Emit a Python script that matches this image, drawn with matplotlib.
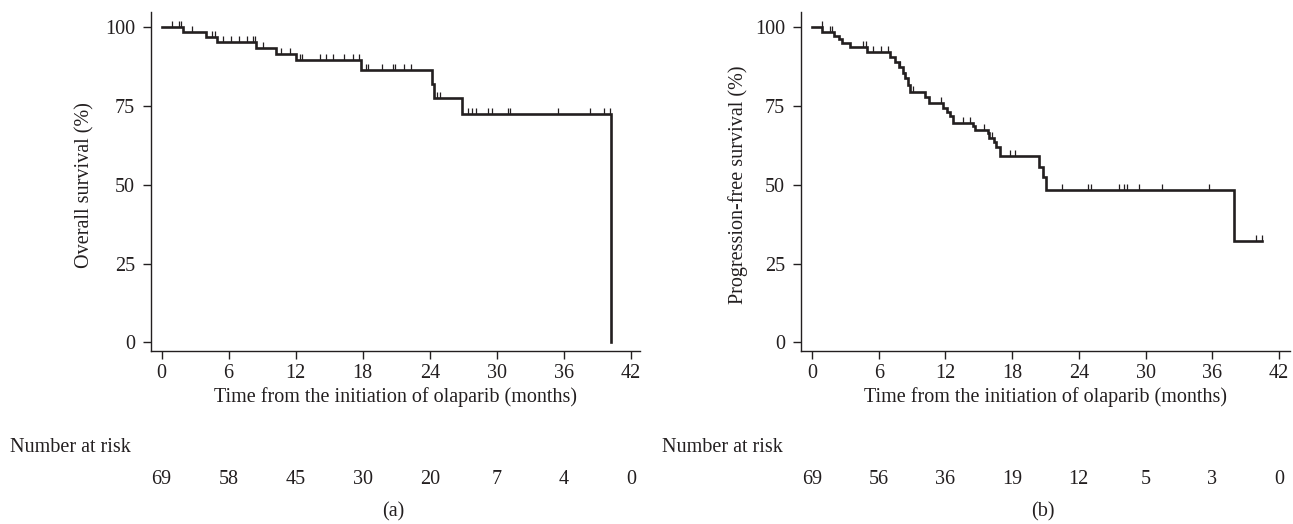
import numpy as np
import matplotlib
matplotlib.use("Agg")
import matplotlib.pyplot as plt
from matplotlib import transforms

plt.rcParams['font.family'] = ['Liberation Serif', 'DejaVu Serif']

INK = '#231f20'
FS = 14.5

# overall survival (a): step times (months) and survival (%) after each step
os_times = [0, 1.95, 3.94, 4.95, 8.45, 10.2, 12.07, 17.8, 24.2, 24.4, 26.9, 40.25]
os_surv = [100, 98.5, 96.9, 95.3, 93.5, 91.6, 89.5, 86.3, 82.0, 77.6, 72.5, 0]
os_censor = [0.9, 1.56, 1.77, 2.7, 4.5, 4.8, 5.5, 6.2, 6.9, 7.66, 8.15, 8.35,
             9.1, 10.7, 11.5, 12.37, 12.6, 14.15, 14.7, 15.3, 16.3, 17.1, 17.7,
             18.3, 18.5, 19.75, 20.7, 20.9, 21.7, 22.3, 24.6, 24.9, 27.4, 27.8,
             28.1, 29.2, 29.6, 31.0, 31.2, 35.5, 38.3, 39.6, 40.1]
os_end = 40.25
os_risk = [69, 58, 45, 30, 20, 7, 4, 0]

# progression-free survival (b)
pfs_times = [0, 0.92, 1.96, 2.4, 2.7, 3.37, 4.96, 6.97, 7.42, 7.8, 8.17, 8.4,
             8.6, 8.77, 10.2, 10.55, 11.76, 12.16, 12.37, 12.66, 14.5, 14.7,
             15.8, 15.96, 16.4, 16.56, 16.95, 20.4, 20.8, 21.0, 38.0]
pfs_surv = [100, 98.6, 97.2, 96.2, 95.1, 93.8, 92.3, 90.7, 89.1, 87.5, 85.4, 83.8,
            81.7, 79.6, 77.8, 75.9, 74.3, 73.2, 71.8, 69.7, 68.6, 67.4,
            66.3, 64.8, 63.7, 61.9, 59.1, 55.7, 52.4, 48.3, 32.2]
pfs_censor = [0.9, 1.57, 1.8, 4.57, 4.87, 5.5, 6.2, 6.8, 7.87, 8.4, 9.1, 11.6,
              13.56, 14.2, 15.5, 16.2, 17.85, 18.3, 20.8, 22.5, 24.8, 25.1, 27.6,
              28.1, 28.3, 29.4, 31.5, 35.7, 39.9, 40.5]
pfs_end = 40.5
pfs_risk = [69, 56, 36, 19, 12, 5, 3, 0]

risk_times = [0, 6, 12, 18, 24, 30, 36, 42]
y_ticks = [0, 25, 50, 75, 100]

W, H = 1293, 524
fig = plt.figure(figsize=(W / 100, H / 100), dpi=100)


def km_panel(rect, times, surv, censor, t_end, risk, ylabel, tag, xlim, ylab_x):
    ax = fig.add_axes(rect)
    t = list(times) + [t_end]
    s = list(surv) + [surv[-1]]
    ax.step(t, s, where='post', color=INK, lw=1.9, solid_joinstyle='miter')
    # censor marks sit on the curve
    idx = np.searchsorted(times, censor, side='right') - 1
    cy = np.asarray(surv)[idx]
    ax.plot(censor, cy, ls='none', marker=2, ms=4.2, mew=0.9, color=INK)

    ax.set_xlim(*xlim)
    ax.set_ylim(-2.76, 104.95)
    ax.set_xticks(risk_times)
    ax.set_yticks(y_ticks)
    for side in ('top', 'right'):
        ax.spines[side].set_visible(False)
    for side in ('left', 'bottom'):
        ax.spines[side].set_linewidth(1.0)
        ax.spines[side].set_color(INK)
    ax.tick_params(direction='out', length=5.5, width=1.0, colors=INK,
                   labelsize=FS)
    ax.tick_params(axis='y', pad=6)
    ax.tick_params(axis='x', pad=4)
    ax.set_xlabel('Time from the initiation of olaparib (months)',
                  fontsize=FS, color=INK, labelpad=3)
    ax.set_ylabel(ylabel, fontsize=FS, color=INK)
    ax.yaxis.set_label_coords(ylab_x, 0.49)

    tr = transforms.blended_transform_factory(ax.transData, fig.transFigure)
    for x, n in zip(risk_times, risk):
        fig.text(x, 1 - 479 / H, str(n), transform=tr, ha='center',
                 va='center', fontsize=FS, color=INK)
    fig.text(np.mean(xlim) - 0.2, 1 - 512 / H, tag, transform=tr,
             ha='center', va='center', fontsize=FS, color=INK)
    return ax


bottom = 1 - 351 / H
height = (351 - 11.7) / H
km_panel([151 / W, bottom, 489 / W, height],
         os_times, os_surv, os_censor, os_end, os_risk,
         'Overall survival (%)', '(a)', (-0.94, 42.8), -0.115)
km_panel([801 / W, bottom, 489 / W, height],
         pfs_times, pfs_surv, pfs_censor, pfs_end, pfs_risk,
         'Progression-free survival (%)', '(b)', (-1.0, 43.0), -0.108)

fig.text(10 / W, 1 - 448 / H, 'Number at risk', ha='left', va='center',
         fontsize=FS, color=INK)
fig.text(662 / W, 1 - 448 / H, 'Number at risk', ha='left', va='center',
         fontsize=FS, color=INK)

fig.savefig('out.png', dpi=100, facecolor='white')
